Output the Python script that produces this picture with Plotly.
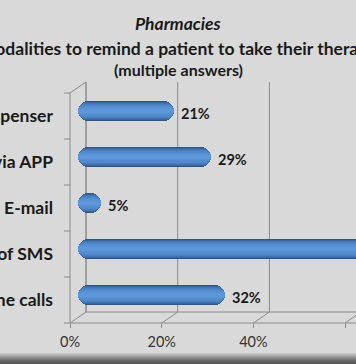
import plotly.graph_objects as go

# ---------------- data ----------------
categories = ["Phone calls", "Sending of SMS", "E-mail", "Notification via APP", "Pill dispenser"]  # bottom -> top
values = [32, 70, 5, 29, 21]
value_labels = ["32%", "70%", "5%", "29%", "21%"]
x_ticks = [0, 20, 40, 60]
x_tick_labels = ["0%", "20%", "40%", "60%"]
title_lines = ["Pharmacies",
               "Modalities to remind a patient to take their therapy",
               "(multiple answers)"]

# ---------------- geometry / style ----------------
W, H = 356, 364
ML, MT, MB, MR = 70, 82, 41, 0
PW, PH = W - ML - MR, H - MT - MB
DX, DY = 16, 11            # 3-D depth offset (px)
SX = 4.585                 # px per percentage point
SY = 46.0                  # px per category
X0PX = ML + DX / 2         # pixel of value 0 for the bars
BOT = H - MB               # front floor pixel row
BG = "#d9d9d9"
LINE = "#8a8a8a"
FONT = "Lato"

def xd(px):  # pixel -> x data
    return (px - X0PX) / SX

def yp(py):  # pixel -> paper y
    return (BOT - py) / PH

def xp(px):  # pixel -> paper x
    return (px - ML) / PW

bar_c0 = BOT - SY / 2 - DY / 2
yrange = [-(BOT - bar_c0) / SY, (bar_c0 - MT) / SY]
xrange = [xd(ML), xd(W)]
n = len(categories)
ys = list(range(n))

layers = [(20, "#2f5689"), (18, "#3a66a0"), (16, "#4374b2"), (14, "#4a7ebe"), (12, "#4f86c7"),
          (10, "#538ccd"), (7, "#5791d3"), (4, "#5c97d9")]

fig = go.Figure()
for hpx, col in layers:
    fig.add_trace(go.Bar(
        y=ys, x=values, base=[0] * n, orientation="h",
        width=hpx / SY, marker=dict(color=col, line=dict(width=0), cornerradius=hpx / 2),
        hoverinfo="skip", showlegend=False))

shapes = []
def seg(x0, y0, x1, y1, xref="paper"):
    shapes.append(dict(type="line", xref=xref, yref="paper", x0=x0, y0=y0, x1=x1, y1=y1,
                       line=dict(color=LINE, width=1), layer="below"))

# back wall gridlines, floor diagonals
for v in x_ticks:
    xb = v + xd(X0PX + DX / 2)
    xf = v + xd(X0PX - DX / 2)
    seg(xb, yp(BOT - DY), xb, yp(MT), xref="x")
    seg(xf, yp(BOT), xb, yp(BOT - DY), xref="x")
# floor edges
seg(xp(ML), yp(BOT), xp(W + 5), yp(BOT))
seg(xp(ML + DX), yp(BOT - DY), xp(W + 5), yp(BOT - DY))
# left wall
seg(xp(ML), yp(BOT), xp(ML), yp(MT + DY))
seg(xp(ML + DX), yp(BOT - DY), xp(ML + DX), yp(MT))
seg(xp(ML), yp(MT + DY), xp(ML + DX), yp(MT))
# category boundary ticks on the front left edge
for k in range(n + 1):
    py = BOT - k * SY
    seg(xp(ML - 6), yp(py), xp(ML), yp(py))

# top border and bottom shaded band
shapes.append(dict(type="rect", xref="paper", yref="paper", x0=xp(0), x1=xp(W), y0=yp(0), y1=yp(-2),
                   fillcolor="#a6a6a6", line=dict(width=0), layer="below"))
band = ["#c4c4c4", "#b8b8b8", "#acacac", "#9e9e9e", "#909090", "#838383", "#777777",
        "#6c6c6c", "#636363", "#5c5c5c", "#585858", "#555555"]
for i, c in enumerate(band):
    shapes.append(dict(type="rect", xref="paper", yref="paper", x0=xp(0), x1=xp(W),
                       y0=yp(353 + i), y1=yp(354 + i), fillcolor=c, line=dict(width=0), layer="below"))

annotations = []
for v, y, t in zip(values, ys, value_labels):
    annotations.append(dict(x=v, y=y, xref="x", yref="y", text=t, showarrow=False,
                            xanchor="left", yanchor="middle", xshift=5, yshift=-2.5,
                            font=dict(family=FONT, size=14.5, color="#1a1a1a", weight="bold")))
title_pos = [(24, 17.5, "bold", "italic"), (48, 17.5, "bold", "normal"), (70, 16, "bold", "normal")]
for txt, (py, fs, fw, st) in zip(title_lines, title_pos):
    annotations.append(dict(x=xp(178), y=yp(py), xref="paper", yref="paper", text=txt, showarrow=False,
                            xanchor="center", yanchor="middle",
                            font=dict(family=FONT, size=fs, color="#1a1a1a", weight=fw, style=st)))

fig.update_layout(
    width=W, height=H, margin=dict(l=ML, r=MR, t=MT, b=MB, autoexpand=False),
    paper_bgcolor=BG, plot_bgcolor=BG, barmode="overlay", bargap=0,
    shapes=shapes, annotations=annotations, showlegend=False,
    xaxis=dict(range=xrange, showgrid=False, zeroline=False, showline=False,
               tickmode="array", tickvals=[v + xd(X0PX - DX / 2) for v in x_ticks], ticktext=x_tick_labels,
               ticks="outside", ticklen=4, tickcolor=LINE, ticklabelstandoff=2,
               tickfont=dict(family=FONT, size=14.5, color="#333333"), fixedrange=True),
    yaxis=dict(range=yrange, showgrid=False, zeroline=False, showline=False,
               tickmode="array", tickvals=[y - (DY / 2) / SY for y in ys], ticktext=categories,
               ticks="", ticklabelstandoff=16,
               tickfont=dict(family=FONT, size=17.5, color="#1a1a1a", weight="bold"), fixedrange=True),
)

fig.write_html("out.html")
